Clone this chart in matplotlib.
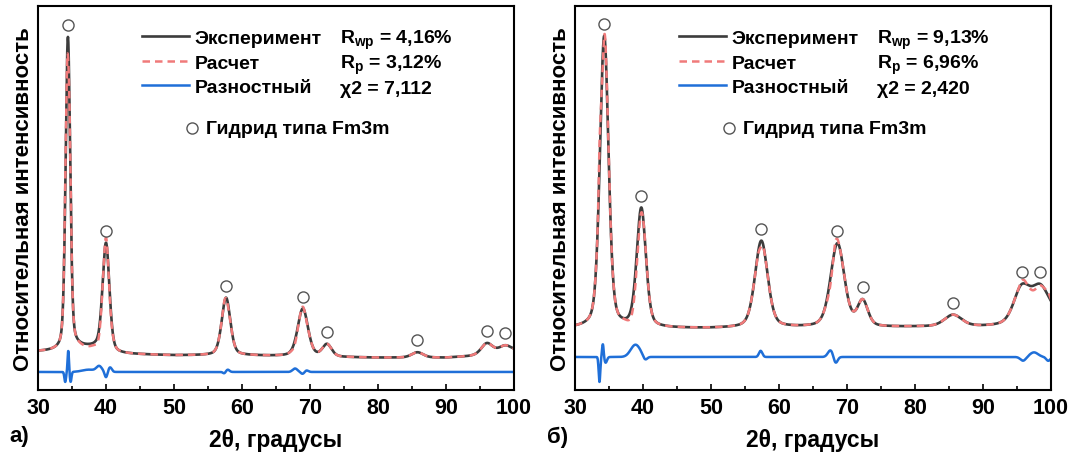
import numpy as np
import matplotlib.pyplot as plt
from matplotlib.ticker import MultipleLocator

plt.rcParams['font.family'] = ['Liberation Sans', 'DejaVu Sans']
plt.rcParams['font.weight'] = 'bold'
plt.rcParams['mathtext.fontset'] = 'custom'
plt.rcParams['mathtext.rm'] = 'Liberation Sans:bold'
plt.rcParams['mathtext.it'] = 'Liberation Sans:bold'
plt.rcParams['mathtext.bf'] = 'Liberation Sans:bold'

two_theta = np.arange(30, 100.001, 0.02)

# --- образец а) ---
a_bg_x = [30, 34, 35.6, 38.4, 41, 50, 60, 70, 80, 90, 95, 100]
a_bg_y = [10.0, 10.1, 11.0, 11.0, 9.4, 9.0, 9.0, 8.6, 8.4, 8.4, 8.9, 10.0]
a_peak_pos = [34.4, 40.0, 57.65, 68.95, 72.5, 85.8, 96.0, 98.7]
a_peak_h = [81.5, 28.2, 15.0, 12.5, 3.2, 1.4, 3.0, 1.8]
a_peak_w = [0.8, 1.2, 1.5, 1.8, 1.6, 2.0, 2.0, 2.2]
a_diff_base = 4.7
a_diff_pos = [34.0, 34.45, 34.8, 37.5, 39.0, 40.0, 40.6, 57.4, 57.9, 67.8, 68.9, 69.5]
a_diff_amp = [-2.6, 5.5, -2.6, 0.6, 1.4, -1.5, 1.2, -0.4, 0.6, 0.9, -0.5, 0.4]
a_diff_w = [0.12, 0.1, 0.12, 1.0, 0.4, 0.2, 0.25, 0.2, 0.25, 0.35, 0.25, 0.25]
a_stats = ['R$_{wp}$ = 4,16%', 'R$_{p}$ = 3,12%', 'χ2 = 7,112']

# --- образец б) ---
b_bg_x = [30, 40, 50, 60, 70, 80, 90, 96, 100]
b_bg_y = [16.0, 16.0, 16.0, 16.2, 16.2, 16.4, 16.5, 16.8, 19.0]
b_peak_pos = [34.3, 39.75, 57.4, 68.6, 72.3, 85.6, 95.7, 98.4]
b_peak_h = [76.0, 31.0, 22.6, 21.8, 6.6, 3.0, 9.5, 8.3]
b_peak_w = [1.5, 1.6, 2.2, 2.4, 1.8, 3.0, 2.8, 3.0]
b_diff_base = 8.6
b_diff_pos = [33.6, 34.1, 34.5, 38.9, 40.3, 57.3, 67.6, 68.3, 95.9, 97.5, 99.6]
b_diff_amp = [-6.5, 3.5, -1.5, 3.2, -1.0, 1.6, 1.8, -1.8, -1.0, 1.2, -1.0]
b_diff_w = [0.12, 0.12, 0.2, 0.7, 0.3, 0.25, 0.4, 0.3, 0.4, 0.6, 0.3]
b_stats = ['R$_{wp}$ = 9,13%', 'R$_{p}$ = 6,96%', 'χ2 = 2,420']

legend_labels = ['Эксперимент', 'Расчет', 'Разностный']
phase_label = 'Гидрид типа Fm3m'


def pseudo_voigt(x, pos, h, fwhm, eta=0.35):
    d = (x - pos) / (fwhm / 2)
    return h * (eta / (1 + d ** 2) + (1 - eta) * np.exp(-np.log(2) * d ** 2))


def pattern(bg_x, bg_y, pos, h, w):
    y = np.interp(two_theta, bg_x, bg_y)
    for p, hh, ww in zip(pos, h, w):
        y = y + pseudo_voigt(two_theta, p, hh, ww)
    return y


def difference(base, pos, amp, w):
    d = np.zeros_like(two_theta)
    for p, a, s in zip(pos, amp, w):
        d = d + a * np.exp(-0.5 * ((two_theta - p) / s) ** 2)
    return base + d, d


def draw(ax, bg_x, bg_y, pos, h, w, dbase, dpos, damp, dw, stats):
    exp_y = pattern(bg_x, bg_y, pos, h, w)
    diff_y, d = difference(dbase, dpos, damp, dw)
    calc_y = exp_y - d

    ax.plot(two_theta, exp_y, color='#3c3c3c', lw=1.9, label=legend_labels[0])
    ax.plot(two_theta, calc_y, color='#f07a7a', lw=1.8, ls=(0, (3, 2)),
            label=legend_labels[1])
    ax.plot(two_theta, diff_y, color='#1f6fd8', lw=1.8, label=legend_labels[2])

    # маркеры фазы над пиками
    mark_y = np.interp(pos, two_theta, exp_y) + 3.1
    ax.plot(pos, mark_y, 'o', ms=8, mfc='white', mec='#555555', mew=1.0)

    ax.set_xlim(30, 100)
    ax.set_ylim(0, 100)
    ax.set_yticks([])
    ax.xaxis.set_major_locator(MultipleLocator(10))
    ax.xaxis.set_minor_locator(MultipleLocator(5))
    ax.tick_params(axis='x', which='major', direction='in', length=4.5,
                   width=1.2, labelsize=15.5, pad=5)
    ax.tick_params(axis='x', which='minor', direction='in', length=3, width=1.2)
    for s in ax.spines.values():
        s.set_linewidth(1.5)
    ax.set_xlabel('2θ, градусы', fontsize=16.5, fontweight='bold', labelpad=7)
    ax.set_ylabel('Относительная интенсивность', fontsize=16,
                  fontweight='bold', labelpad=3)

    ax.legend(loc='upper left', bbox_to_anchor=(0.2185, 0.939), frameon=False,
              fontsize=14, handlelength=2.4, handletextpad=0.3,
              labelspacing=0.36, borderpad=0, borderaxespad=0)
    for i, t in enumerate(stats):
        ax.text(0.635, 0.904 - i * 0.065, t, transform=ax.transAxes,
                fontsize=14, va='baseline', ha='left')
    ax.plot([0.324], [0.682], 'o', ms=8, mfc='white', mec='#555555', mew=1.0,
            transform=ax.transAxes, clip_on=False)
    ax.text(0.353, 0.682, phase_label, transform=ax.transAxes, fontsize=14,
            va='center', ha='left')


fig = plt.figure(figsize=(10.74, 4.56), dpi=100)
ax_a = fig.add_axes([38 / 1074, 65 / 456, 476 / 1074, 384 / 456])
ax_b = fig.add_axes([575 / 1074, 65 / 456, 476 / 1074, 384 / 456])

draw(ax_a, a_bg_x, a_bg_y, a_peak_pos, a_peak_h, a_peak_w,
     a_diff_base, a_diff_pos, a_diff_amp, a_diff_w, a_stats)
draw(ax_b, b_bg_x, b_bg_y, b_peak_pos, b_peak_h, b_peak_w,
     b_diff_base, b_diff_pos, b_diff_amp, b_diff_w, b_stats)

fig.text(19 / 1074, 1 - 437 / 456, 'а)', fontsize=16, ha='center', va='center')
fig.text(558 / 1074, 1 - 437 / 456, 'б)', fontsize=16, ha='center', va='center')

fig.savefig('out.png', dpi=100)
